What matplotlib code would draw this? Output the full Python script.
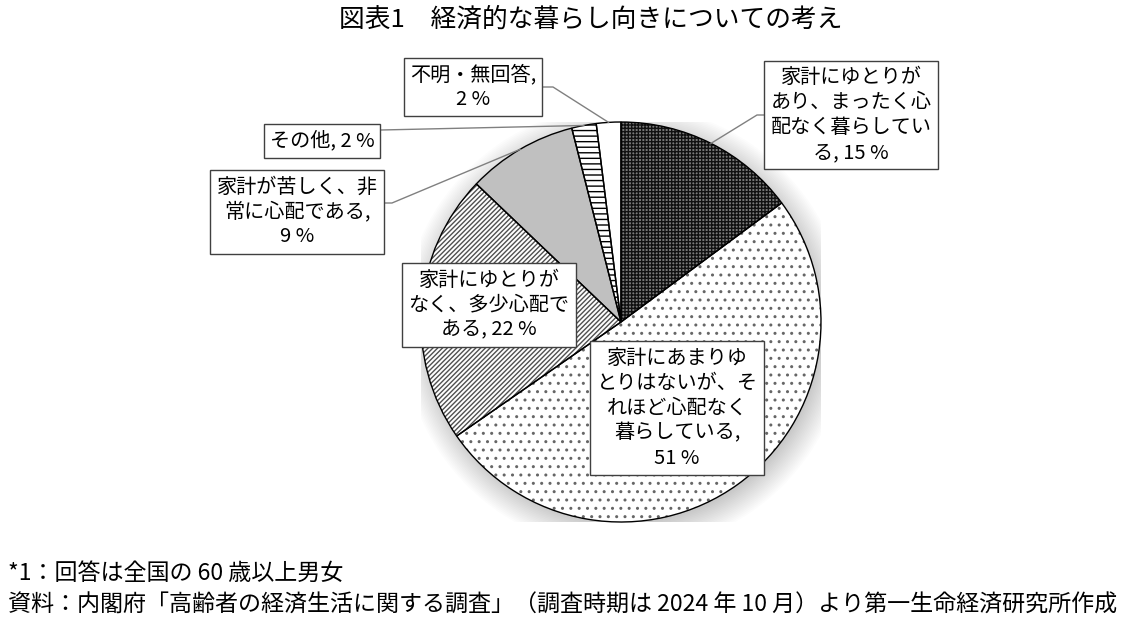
import numpy as np
import matplotlib.pyplot as plt
from matplotlib.lines import Line2D
from matplotlib.patches import Circle

plt.rcParams['font.family'] = ['Noto Sans CJK JP', 'DejaVu Sans']

# data
title = '図表1\u3000経済的な暮らし向きについての考え'
names = [
    '家計にゆとりが\nあり、まったく心\n配なく暮らしてい\nる',
    '家計にあまりゆ\nとりはないが、そ\nれほど心配なく\n暮らしている',
    '家計にゆとりが\nなく、多少心配で\nある',
    '家計が苦しく、非\n常に心配である',
    'その他',
    '不明・無回答',
]
values = [15, 51, 22, 9, 2, 2]
seps = [', ', ',\n', ', ', ',\n', ', ', ',\n']
notes = [
    '*1：回答は全国の 60 歳以上男女',
    '資料：内閣府「高齢者の経済生活に関する調査」（調査時期は 2024 年 10 月）より第一生命経済研究所作成',
]

# styles per slice
faces = ['#7a7a7a', 'white', 'white', '#c0c0c0', 'white', 'white']
hatches = ['+++++', '..', '///////', '', '---', '']
hatch_cols = ['#111111', '#666666', '#505050', '#c0c0c0', 'black', 'white']

W, H = 1129, 620
fig = plt.figure(figsize=(W / 100, H / 100), dpi=100)

def fx(x):
    return x / W

def fy(y):
    return 1 - y / H

# pie axes: center (621, 322), radius 200 px
ax = fig.add_axes([fx(421), fy(522), 400 / W, 400 / H])

# soft shadow
for k in range(18):
    ax.add_patch(Circle((0.02, -0.03), 0.98 + 0.008 * k, color='black',
                        alpha=0.012, lw=0, zorder=0))

wedges, _ = ax.pie(values, startangle=90, counterclock=False, colors=faces,
                   wedgeprops=dict(linewidth=0))
for w, h, c in zip(wedges, hatches, hatch_cols):
    w.set_hatch(h)
    w.set_edgecolor(c)
    w.set_zorder(1)
outline, _ = ax.pie(values, startangle=90, counterclock=False,
                    colors=['none'] * len(values),
                    wedgeprops=dict(linewidth=1, edgecolor='black'))
for w in outline:
    w.set_zorder(2)
ax.set_xlim(-1, 1)
ax.set_ylim(-1, 1)
ax.axis('off')

# label boxes (pixel centers)
box_pos = [(851, 115), (677, 408), (489, 305), (297, 212), (322, 141), (473, 87)]
for name, v, s, (bx, by) in zip(names, values, seps, box_pos):
    fig.text(fx(bx), fy(by), f'{name}{s}{v} %', ha='center', va='center',
             fontsize=14.5, linespacing=1.25, zorder=5,
             bbox=dict(boxstyle='square,pad=0.3', fc='white', ec='#404040', lw=1))

# leader lines: (knee, box edge) in pixels, None = no leader
leaders = [((757, 115), (765, 115)), None, None,
           ((392, 203), (381, 203)), (None, (381, 130)), ((553, 87), (542, 87))]
to_fig = fig.transFigure.inverted()
for w, ld in zip(wedges, leaders):
    if ld is None:
        continue
    t = np.deg2rad((w.theta1 + w.theta2) / 2)
    p0 = to_fig.transform(ax.transData.transform((np.cos(t), np.sin(t))))
    pts = [p0] + [(fx(px), fy(py)) for px, py in (p for p in ld if p is not None)]
    xs, ys = zip(*pts)
    fig.add_artist(Line2D(xs, ys, color='#808080', lw=1, zorder=4))

fig.text(fx(591), fy(20), title, ha='center', va='center', fontsize=18.5)
fig.text(fx(8), fy(573), notes[0], ha='left', va='center', fontsize=16.6)
fig.text(fx(8), fy(605), notes[1], ha='left', va='center', fontsize=16.6)

fig.savefig('out.png', dpi=100, facecolor='white')
